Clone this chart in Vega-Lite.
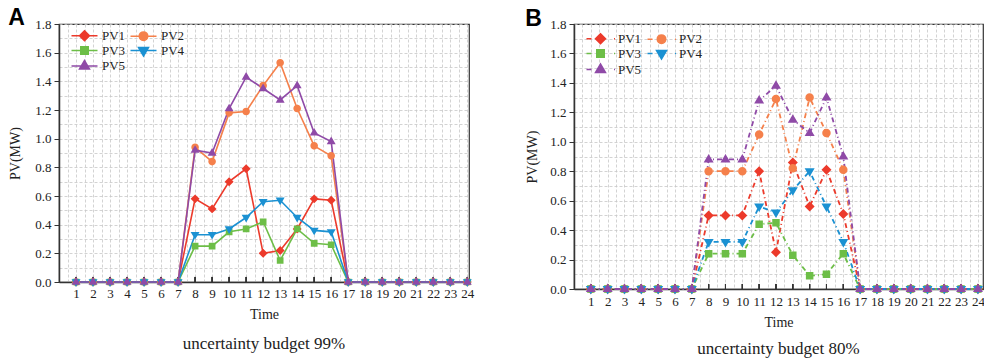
{
"$schema": "https://vega.github.io/schema/vega-lite/v6.json",
"padding": {"left": 8, "top": 7, "right": 0, "bottom": 0},
"spacing": 45,
"resolve": {"scale": {"fill": "independent", "stroke": "independent", "shape": "independent"}, "legend": {"fill": "independent", "stroke": "independent", "shape": "independent"}},
"config": {
  "font": "Liberation Serif",
  "view": {"stroke": "#333", "strokeWidth": 1.2},
  "axis": {"labelFont": "Liberation Serif", "labelFontSize": 13, "labelColor": "#222", "titleFont": "Liberation Serif", "titleFontSize": 14, "titleFontWeight": "normal", "titleColor": "#222", "domainColor": "#333", "domainWidth": 1.5, "tickColor": "#333", "tickWidth": 1, "grid": true, "gridColor": "#c8c8c8", "gridDash": [3, 2], "gridWidth": 0.8},
  "title": {"font": "Liberation Serif", "fontWeight": "normal", "color": "#222"}
},
"datasets": {
"a": [
{"s":"PV1","t":1,"v":0},{"s":"PV1","t":2,"v":0},{"s":"PV1","t":3,"v":0},{"s":"PV1","t":4,"v":0},{"s":"PV1","t":5,"v":0},{"s":"PV1","t":6,"v":0},{"s":"PV1","t":7,"v":0},{"s":"PV1","t":8,"v":0.58},{"s":"PV1","t":9,"v":0.51},{"s":"PV1","t":10,"v":0.70},{"s":"PV1","t":11,"v":0.79},{"s":"PV1","t":12,"v":0.20},{"s":"PV1","t":13,"v":0.22},{"s":"PV1","t":14,"v":0.37},{"s":"PV1","t":15,"v":0.58},{"s":"PV1","t":16,"v":0.57},{"s":"PV1","t":17,"v":0},{"s":"PV1","t":18,"v":0},{"s":"PV1","t":19,"v":0},{"s":"PV1","t":20,"v":0},{"s":"PV1","t":21,"v":0},{"s":"PV1","t":22,"v":0},{"s":"PV1","t":23,"v":0},{"s":"PV1","t":24,"v":0},
{"s":"PV2","t":1,"v":0},{"s":"PV2","t":2,"v":0},{"s":"PV2","t":3,"v":0},{"s":"PV2","t":4,"v":0},{"s":"PV2","t":5,"v":0},{"s":"PV2","t":6,"v":0},{"s":"PV2","t":7,"v":0},{"s":"PV2","t":8,"v":0.94},{"s":"PV2","t":9,"v":0.84},{"s":"PV2","t":10,"v":1.18},{"s":"PV2","t":11,"v":1.19},{"s":"PV2","t":12,"v":1.37},{"s":"PV2","t":13,"v":1.53},{"s":"PV2","t":14,"v":1.21},{"s":"PV2","t":15,"v":0.95},{"s":"PV2","t":16,"v":0.88},{"s":"PV2","t":17,"v":0},{"s":"PV2","t":18,"v":0},{"s":"PV2","t":19,"v":0},{"s":"PV2","t":20,"v":0},{"s":"PV2","t":21,"v":0},{"s":"PV2","t":22,"v":0},{"s":"PV2","t":23,"v":0},{"s":"PV2","t":24,"v":0},
{"s":"PV3","t":1,"v":0},{"s":"PV3","t":2,"v":0},{"s":"PV3","t":3,"v":0},{"s":"PV3","t":4,"v":0},{"s":"PV3","t":5,"v":0},{"s":"PV3","t":6,"v":0},{"s":"PV3","t":7,"v":0},{"s":"PV3","t":8,"v":0.25},{"s":"PV3","t":9,"v":0.25},{"s":"PV3","t":10,"v":0.35},{"s":"PV3","t":11,"v":0.37},{"s":"PV3","t":12,"v":0.42},{"s":"PV3","t":13,"v":0.15},{"s":"PV3","t":14,"v":0.37},{"s":"PV3","t":15,"v":0.27},{"s":"PV3","t":16,"v":0.26},{"s":"PV3","t":17,"v":0},{"s":"PV3","t":18,"v":0},{"s":"PV3","t":19,"v":0},{"s":"PV3","t":20,"v":0},{"s":"PV3","t":21,"v":0},{"s":"PV3","t":22,"v":0},{"s":"PV3","t":23,"v":0},{"s":"PV3","t":24,"v":0},
{"s":"PV4","t":1,"v":0},{"s":"PV4","t":2,"v":0},{"s":"PV4","t":3,"v":0},{"s":"PV4","t":4,"v":0},{"s":"PV4","t":5,"v":0},{"s":"PV4","t":6,"v":0},{"s":"PV4","t":7,"v":0},{"s":"PV4","t":8,"v":0.33},{"s":"PV4","t":9,"v":0.33},{"s":"PV4","t":10,"v":0.37},{"s":"PV4","t":11,"v":0.45},{"s":"PV4","t":12,"v":0.56},{"s":"PV4","t":13,"v":0.57},{"s":"PV4","t":14,"v":0.45},{"s":"PV4","t":15,"v":0.36},{"s":"PV4","t":16,"v":0.35},{"s":"PV4","t":17,"v":0},{"s":"PV4","t":18,"v":0},{"s":"PV4","t":19,"v":0},{"s":"PV4","t":20,"v":0},{"s":"PV4","t":21,"v":0},{"s":"PV4","t":22,"v":0},{"s":"PV4","t":23,"v":0},{"s":"PV4","t":24,"v":0},
{"s":"PV5","t":1,"v":0},{"s":"PV5","t":2,"v":0},{"s":"PV5","t":3,"v":0},{"s":"PV5","t":4,"v":0},{"s":"PV5","t":5,"v":0},{"s":"PV5","t":6,"v":0},{"s":"PV5","t":7,"v":0},{"s":"PV5","t":8,"v":0.92},{"s":"PV5","t":9,"v":0.90},{"s":"PV5","t":10,"v":1.21},{"s":"PV5","t":11,"v":1.43},{"s":"PV5","t":12,"v":1.35},{"s":"PV5","t":13,"v":1.27},{"s":"PV5","t":14,"v":1.37},{"s":"PV5","t":15,"v":1.04},{"s":"PV5","t":16,"v":0.98},{"s":"PV5","t":17,"v":0},{"s":"PV5","t":18,"v":0},{"s":"PV5","t":19,"v":0},{"s":"PV5","t":20,"v":0},{"s":"PV5","t":21,"v":0},{"s":"PV5","t":22,"v":0},{"s":"PV5","t":23,"v":0},{"s":"PV5","t":24,"v":0}
],
"b": [
{"s":"PV1","t":1,"v":0},{"s":"PV1","t":2,"v":0},{"s":"PV1","t":3,"v":0},{"s":"PV1","t":4,"v":0},{"s":"PV1","t":5,"v":0},{"s":"PV1","t":6,"v":0},{"s":"PV1","t":7,"v":0},{"s":"PV1","t":8,"v":0.50},{"s":"PV1","t":9,"v":0.50},{"s":"PV1","t":10,"v":0.50},{"s":"PV1","t":11,"v":0.80},{"s":"PV1","t":12,"v":0.25},{"s":"PV1","t":13,"v":0.86},{"s":"PV1","t":14,"v":0.56},{"s":"PV1","t":15,"v":0.81},{"s":"PV1","t":16,"v":0.51},{"s":"PV1","t":17,"v":0},{"s":"PV1","t":18,"v":0},{"s":"PV1","t":19,"v":0},{"s":"PV1","t":20,"v":0},{"s":"PV1","t":21,"v":0},{"s":"PV1","t":22,"v":0},{"s":"PV1","t":23,"v":0},{"s":"PV1","t":24,"v":0},
{"s":"PV2","t":1,"v":0},{"s":"PV2","t":2,"v":0},{"s":"PV2","t":3,"v":0},{"s":"PV2","t":4,"v":0},{"s":"PV2","t":5,"v":0},{"s":"PV2","t":6,"v":0},{"s":"PV2","t":7,"v":0},{"s":"PV2","t":8,"v":0.80},{"s":"PV2","t":9,"v":0.80},{"s":"PV2","t":10,"v":0.80},{"s":"PV2","t":11,"v":1.05},{"s":"PV2","t":12,"v":1.29},{"s":"PV2","t":13,"v":0.82},{"s":"PV2","t":14,"v":1.30},{"s":"PV2","t":15,"v":1.06},{"s":"PV2","t":16,"v":0.81},{"s":"PV2","t":17,"v":0},{"s":"PV2","t":18,"v":0},{"s":"PV2","t":19,"v":0},{"s":"PV2","t":20,"v":0},{"s":"PV2","t":21,"v":0},{"s":"PV2","t":22,"v":0},{"s":"PV2","t":23,"v":0},{"s":"PV2","t":24,"v":0},
{"s":"PV3","t":1,"v":0},{"s":"PV3","t":2,"v":0},{"s":"PV3","t":3,"v":0},{"s":"PV3","t":4,"v":0},{"s":"PV3","t":5,"v":0},{"s":"PV3","t":6,"v":0},{"s":"PV3","t":7,"v":0},{"s":"PV3","t":8,"v":0.24},{"s":"PV3","t":9,"v":0.24},{"s":"PV3","t":10,"v":0.24},{"s":"PV3","t":11,"v":0.44},{"s":"PV3","t":12,"v":0.45},{"s":"PV3","t":13,"v":0.23},{"s":"PV3","t":14,"v":0.09},{"s":"PV3","t":15,"v":0.10},{"s":"PV3","t":16,"v":0.24},{"s":"PV3","t":17,"v":0},{"s":"PV3","t":18,"v":0},{"s":"PV3","t":19,"v":0},{"s":"PV3","t":20,"v":0},{"s":"PV3","t":21,"v":0},{"s":"PV3","t":22,"v":0},{"s":"PV3","t":23,"v":0},{"s":"PV3","t":24,"v":0},
{"s":"PV4","t":1,"v":0},{"s":"PV4","t":2,"v":0},{"s":"PV4","t":3,"v":0},{"s":"PV4","t":4,"v":0},{"s":"PV4","t":5,"v":0},{"s":"PV4","t":6,"v":0},{"s":"PV4","t":7,"v":0},{"s":"PV4","t":8,"v":0.32},{"s":"PV4","t":9,"v":0.32},{"s":"PV4","t":10,"v":0.32},{"s":"PV4","t":11,"v":0.56},{"s":"PV4","t":12,"v":0.52},{"s":"PV4","t":13,"v":0.67},{"s":"PV4","t":14,"v":0.80},{"s":"PV4","t":15,"v":0.56},{"s":"PV4","t":16,"v":0.32},{"s":"PV4","t":17,"v":0},{"s":"PV4","t":18,"v":0},{"s":"PV4","t":19,"v":0},{"s":"PV4","t":20,"v":0},{"s":"PV4","t":21,"v":0},{"s":"PV4","t":22,"v":0},{"s":"PV4","t":23,"v":0},{"s":"PV4","t":24,"v":0},
{"s":"PV5","t":1,"v":0},{"s":"PV5","t":2,"v":0},{"s":"PV5","t":3,"v":0},{"s":"PV5","t":4,"v":0},{"s":"PV5","t":5,"v":0},{"s":"PV5","t":6,"v":0},{"s":"PV5","t":7,"v":0},{"s":"PV5","t":8,"v":0.88},{"s":"PV5","t":9,"v":0.88},{"s":"PV5","t":10,"v":0.88},{"s":"PV5","t":11,"v":1.28},{"s":"PV5","t":12,"v":1.38},{"s":"PV5","t":13,"v":1.15},{"s":"PV5","t":14,"v":1.06},{"s":"PV5","t":15,"v":1.30},{"s":"PV5","t":16,"v":0.90},{"s":"PV5","t":17,"v":0},{"s":"PV5","t":18,"v":0},{"s":"PV5","t":19,"v":0},{"s":"PV5","t":20,"v":0},{"s":"PV5","t":21,"v":0},{"s":"PV5","t":22,"v":0},{"s":"PV5","t":23,"v":0},{"s":"PV5","t":24,"v":0}
]
},
"hconcat": [
{
  "title": {"text": "A", "orient": "top", "anchor": "start", "frame": "bounds", "font": "Liberation Sans", "fontSize": 23, "fontWeight": "bold", "color": "#000", "offset": -13},
  "vconcat": [
  {
    "width": 410, "height": 258,
    "data": {"name": "a"},
    "title": {"text": "uncertainty budget 99%", "orient": "bottom", "anchor": "middle", "frame": "group", "fontSize": 17, "offset": 15},
    "encoding": {
      "x": {"field": "t", "type": "quantitative", "scale": {"domain": [0, 24.1], "nice": false, "zero": false},
        "axis": {"values": [0.5,1,1.5,2,2.5,3,3.5,4,4.5,5,5.5,6,6.5,7,7.5,8,8.5,9,9.5,10,10.5,11,11.5,12,12.5,13,13.5,14,14.5,15,15.5,16,16.5,17,17.5,18,18.5,19,19.5,20,20.5,21,21.5,22,22.5,23,23.5,24],
          "title": "Time", "titlePadding": 7, "labelFont": "Liberation Serif", "titleFont": "Liberation Serif", "labelExpr": "datum.value % 1 == 0 ? format(datum.value, 'd') : ''", "labelOverlap": false, "labelFlush": false, "labelPadding": 5, "ticks": false}},
      "y": {"field": "v", "type": "quantitative", "scale": {"domain": [0, 1.8], "nice": false},
        "axis": {"values": [0,0.1,0.2,0.3,0.4,0.5,0.6,0.7,0.8,0.9,1,1.1,1.2,1.3,1.4,1.5,1.6,1.7,1.8],
          "title": "PV(MW)", "titlePadding": 12, "labelFont": "Liberation Serif", "titleFont": "Liberation Serif", "labelExpr": "round(datum.value*10) % 2 == 0 ? format(datum.value, '.1f') : ''", "labelOverlap": false, "labelFlush": false, "labelPadding": 3, "tickSize": 5,
          "tickOpacity": {"condition": {"test": "round(datum.value*10) % 2 == 0", "value": 1}, "value": 0}}}
    },
    "layer": [
      {"mark": {"type": "rule", "strokeWidth": 1, "color": "#333"}, "encoding": {"y": {"datum": 0}, "y2": {"datum": 0.035}}},
      {"mark": {"type": "line", "strokeWidth": 1.6},
       "encoding": {"stroke": {"field": "s", "type": "nominal", "scale": {"domain": ["PV1","PV2","PV3","PV4","PV5"], "range": ["#EC3A2B","#F5804B","#6DBE47","#1B91D2","#8F4AA7"]},
         "legend": {"title": null, "orient": "none", "direction": "horizontal", "legendX": 19, "legendY": 5, "columns": 2, "columnPadding": 1, "rowPadding": -1.5, "padding": 0, "labelFont": "Liberation Serif", "labelFontSize": 13, "labelColor": "#222", "labelOffset": 11, "symbolSize": 100, "symbolStrokeWidth": 1.5, "symbolOpacity": 1}}}},
      {"mark": {"type": "point", "filled": true, "size": 80, "opacity": 1},
       "encoding": {
         "fill": {"field": "s", "type": "nominal", "scale": {"domain": ["PV1","PV2","PV3","PV4","PV5"], "range": ["#EC3A2B","#F5804B","#6DBE47","#1B91D2","#8F4AA7"]},
           "legend": {"title": null, "orient": "none", "direction": "horizontal", "legendX": 19, "legendY": 5, "columns": 2, "columnPadding": 1, "rowPadding": -1.5, "padding": 0, "labelFont": "Liberation Serif", "labelFontSize": 13, "labelColor": "#222", "labelOffset": 11, "symbolSize": 100, "symbolStrokeWidth": 1.5, "symbolOpacity": 1}},
         "shape": {"field": "s", "type": "nominal", "scale": {"domain": ["PV1","PV2","PV3","PV4","PV5"], "range": [
            "M-2.6,0H2.6M0,-1L1,0L0,1L-1,0Z",
            "M-2.6,0H2.6M0.85,0A0.85,0.85,0,1,1,-0.85,0A0.85,0.85,0,1,1,0.85,0Z",
            "M-2.6,0H2.6M-0.75,-0.75H0.75V0.75H-0.75Z",
            "M-2.6,0H2.6M-1,-0.6H1L0,1.1Z",
            "M-2.6,0H2.6M-1,0.6H1L0,-1.1Z"]},
           "legend": {"title": null, "orient": "none", "direction": "horizontal", "legendX": 19, "legendY": 5, "columns": 2, "columnPadding": 1, "rowPadding": -1.5, "padding": 0, "labelFont": "Liberation Serif", "labelFontSize": 13, "labelColor": "#222", "labelOffset": 11, "symbolSize": 100, "symbolStrokeWidth": 1.5, "symbolOpacity": 1}}}}
    ]
  }
  ]
},
{
  "title": {"text": "B", "orient": "top", "anchor": "start", "frame": "bounds", "font": "Liberation Sans", "fontSize": 23, "fontWeight": "bold", "color": "#000", "offset": -14},
  "vconcat": [
  {
    "width": 409, "height": 265,
    "data": {"name": "b"},
    "title": {"text": "uncertainty budget 80%", "orient": "bottom", "anchor": "middle", "frame": "group", "fontSize": 17, "offset": 12},
    "encoding": {
      "x": {"field": "t", "type": "quantitative", "scale": {"domain": [0, 24.3], "nice": false, "zero": false},
        "axis": {"values": [0.5,1,1.5,2,2.5,3,3.5,4,4.5,5,5.5,6,6.5,7,7.5,8,8.5,9,9.5,10,10.5,11,11.5,12,12.5,13,13.5,14,14.5,15,15.5,16,16.5,17,17.5,18,18.5,19,19.5,20,20.5,21,21.5,22,22.5,23,23.5,24],
          "title": "Time", "titlePadding": 7, "labelFont": "Liberation Serif", "titleFont": "Liberation Serif", "labelExpr": "datum.value % 1 == 0 ? format(datum.value, 'd') : ''", "labelOverlap": false, "labelFlush": false, "labelPadding": 6, "ticks": false}},
      "y": {"field": "v", "type": "quantitative", "scale": {"domain": [0, 1.8], "nice": false},
        "axis": {"values": [0,0.1,0.2,0.3,0.4,0.5,0.6,0.7,0.8,0.9,1,1.1,1.2,1.3,1.4,1.5,1.6,1.7,1.8],
          "title": "PV(MW)", "titlePadding": 10, "labelFont": "Liberation Serif", "titleFont": "Liberation Serif", "labelExpr": "round(datum.value*10) % 2 == 0 ? format(datum.value, '.1f') : ''", "labelOverlap": false, "labelFlush": false, "labelPadding": 3, "tickSize": 5,
          "tickOpacity": {"condition": {"test": "round(datum.value*10) % 2 == 0", "value": 1}, "value": 0}}}
    },
    "layer": [
      {"mark": {"type": "rule", "strokeWidth": 1, "color": "#333"}, "encoding": {"y": {"datum": 0}, "y2": {"datum": 0.034}}},
      {"mark": {"type": "line", "strokeWidth": 1.8, "strokeDash": [5, 3, 1, 3]},
       "encoding": {"stroke": {"field": "s", "type": "nominal", "scale": {"domain": ["PV1","PV2","PV3","PV4","PV5"], "range": ["#EC3A2B","#F5804B","#6DBE47","#1B91D2","#8F4AA7"]},
         "legend": {"title": null, "orient": "none", "direction": "horizontal", "legendX": 20, "legendY": 8, "columns": 2, "columnPadding": 2, "rowPadding": -1, "padding": 0, "labelFont": "Liberation Serif", "labelFontSize": 13, "labelColor": "#222", "labelOffset": 11, "symbolSize": 100, "symbolStrokeWidth": 1.5, "symbolOpacity": 1}}}},
      {"mark": {"type": "point", "filled": true, "size": 100, "opacity": 1},
       "encoding": {
         "fill": {"field": "s", "type": "nominal", "scale": {"domain": ["PV1","PV2","PV3","PV4","PV5"], "range": ["#EC3A2B","#F5804B","#6DBE47","#1B91D2","#8F4AA7"]},
           "legend": {"title": null, "orient": "none", "direction": "horizontal", "legendX": 20, "legendY": 8, "columns": 2, "columnPadding": 2, "rowPadding": -1, "padding": 0, "labelFont": "Liberation Serif", "labelFontSize": 13, "labelColor": "#222", "labelOffset": 11, "symbolSize": 100, "symbolStrokeWidth": 1.5, "symbolOpacity": 1}},
         "shape": {"field": "s", "type": "nominal", "scale": {"domain": ["PV1","PV2","PV3","PV4","PV5"], "range": [
            "M-2.8,0H-1.8M2.7,0H2.9M0,-1L1,0L0,1L-1,0Z",
            "M-2.8,0H-1.8M2.7,0H2.9M0.85,0A0.85,0.85,0,1,1,-0.85,0A0.85,0.85,0,1,1,0.85,0Z",
            "M-2.8,0H-1.8M2.7,0H2.9M-0.75,-0.75H0.75V0.75H-0.75Z",
            "M-2.8,0H-1.8M2.7,0H2.9M-1,-0.6H1L0,1.1Z",
            "M-2.8,0H-1.8M2.7,0H2.9M-1,0.6H1L0,-1.1Z"]},
           "legend": {"title": null, "orient": "none", "direction": "horizontal", "legendX": 20, "legendY": 8, "columns": 2, "columnPadding": 2, "rowPadding": -1, "padding": 0, "labelFont": "Liberation Serif", "labelFontSize": 13, "labelColor": "#222", "labelOffset": 11, "symbolSize": 100, "symbolStrokeWidth": 1.5, "symbolOpacity": 1}}}}
    ]
  }
  ]
}
]
}
